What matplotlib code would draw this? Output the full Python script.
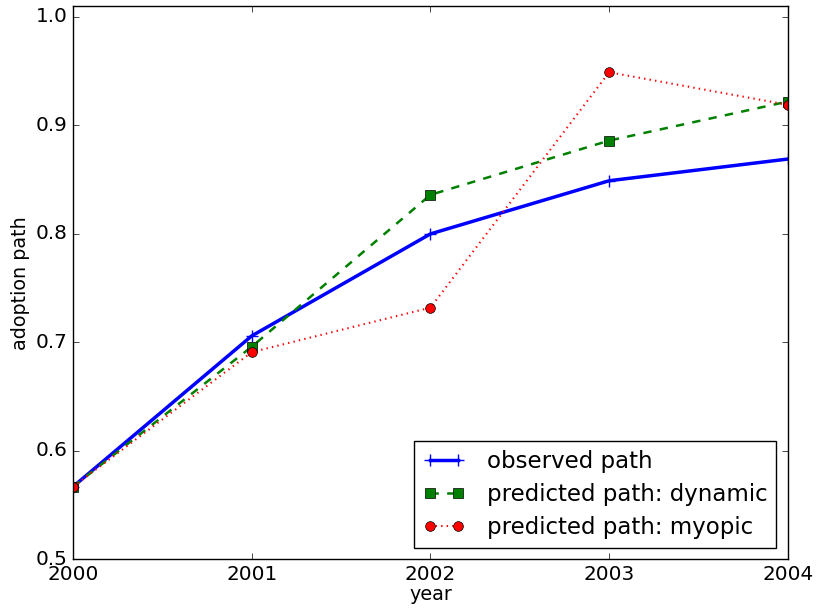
import matplotlib
matplotlib.use("Agg")
import matplotlib.pyplot as plt

plt.style.use("classic")

years = [2000, 2001, 2002, 2003, 2004]
observed = [0.567, 0.706, 0.800, 0.849, 0.869]
dynamic = [0.567, 0.696, 0.836, 0.886, 0.922]
myopic = [0.567, 0.691, 0.732, 0.949, 0.919]

fig = plt.figure(figsize=(8.16, 6.08), dpi=100, facecolor="white")
ax = fig.add_axes([0.0895, 0.080, 0.876, 0.910])

ax.plot(years, observed, color="blue", linestyle="-", linewidth=2.5, marker="+",
        markersize=9, markeredgewidth=1, label="observed path")
ax.plot(years, dynamic, color="green", linestyle="--", linewidth=1.8, marker="s",
        markersize=7, label="predicted path: dynamic")
ax.plot(years, myopic, color="red", linestyle=":", linewidth=1.5, marker="o",
        markersize=7, label="predicted path: myopic")

ax.set_xlim(2000, 2004)
ax.set_ylim(0.5, 1.01)
ax.set_xticks(years)
ax.set_xticklabels([str(y) for y in years])
ax.set_yticks([0.5, 0.6, 0.7, 0.8, 0.9, 1.0])
ax.set_yticklabels(["0.5", "0.6", "0.7", "0.8", "0.9", "1.0"])
ax.tick_params(labelsize=14.4)
ax.set_xlabel("year", fontsize=13.8, labelpad=1)
ax.set_ylabel("adoption path", fontsize=13.8, labelpad=4)

leg = ax.legend(loc="lower right", numpoints=2, fontsize=16.5, fancybox=False,
                handlelength=1.8, handletextpad=0.95, labelspacing=0.42,
                borderpad=0.4)

fig.savefig("out.png", dpi=100, facecolor="white")
